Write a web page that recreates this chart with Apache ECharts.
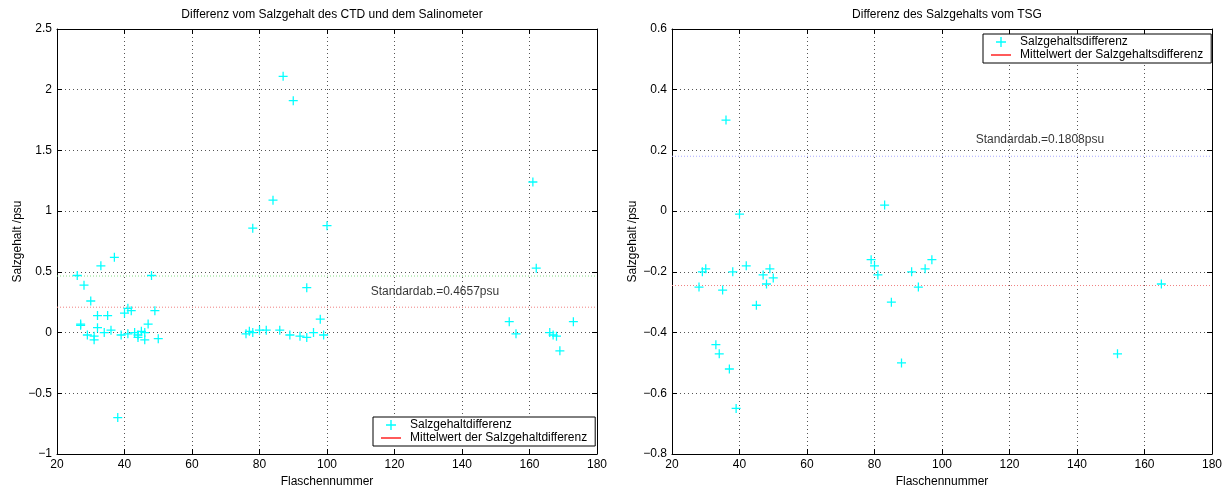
<!DOCTYPE html>
<html>
<head>
<meta charset="utf-8">
<script src="https://cdn.jsdelivr.net/npm/echarts@6/dist/echarts.min.js"></script>
<style>
html,body{margin:0;padding:0;background:#fff;}
#chart{width:1228px;height:487px;}
</style>
</head>
<body>
<div id="chart"></div>
<script>
// ---- Data ----
const leftTitle = 'Differenz vom Salzgehalt des CTD und dem Salinometer';
const rightTitle = 'Differenz des Salzgehalts vom TSG';
const xName = 'Flaschennummer';
const yName = 'Salzgehalt /psu';

const leftX = [26, 28, 27, 27, 30, 29, 31, 31, 32, 32, 33, 34, 35, 36, 37, 38, 39, 40, 41, 42, 41, 43, 44, 44, 45, 46, 46, 47, 48, 49, 50,
  76, 77, 78, 78, 80, 82, 84, 86, 87, 89, 90, 92, 94, 94, 96, 98, 99, 100,
  154, 156, 161, 162, 166, 167, 168, 169, 173];
const leftY = [0.47, 0.39, 0.07, 0.06, 0.26, -0.02, -0.03, -0.06, 0.04, 0.14, 0.55, 0.00, 0.14, 0.02, 0.62, -0.70, -0.02, 0.16, 0.20, 0.18, -0.01, 0.00, -0.04, -0.02, 0.01, 0.00, -0.06, 0.07, 0.47, 0.18, -0.05,
  -0.01, 0.01, 0.00, 0.86, 0.02, 0.02, 1.09, 0.02, 2.11, -0.02, 1.91, -0.03, -0.04, 0.37, 0.00, 0.11, -0.02, 0.88,
  0.09, -0.01, 1.24, 0.53, 0.00, -0.02, -0.03, -0.15, 0.09];
const leftMean = 0.209;
const leftStd = 0.4657;
const leftSeriesNames = ['Salzgehaltdifferenz', 'Mittelwert der Salzgehaltdifferenz'];
const leftStdText = 'Standardab.=0.4657psu';
const leftStdTextPos = [132, 0.34];

const rightX = [28, 29, 30, 33, 34, 35, 36, 37, 38, 39, 40, 42, 45, 47, 48, 49, 50, 79, 80, 81, 83, 85, 88, 91, 93, 95, 97, 152, 165];
const rightY = [-0.25, -0.20, -0.19, -0.44, -0.47, -0.26, 0.30, -0.52, -0.20, -0.65, -0.01, -0.18, -0.31, -0.21, -0.24, -0.19, -0.22, -0.16, -0.18, -0.21, 0.02, -0.30, -0.50, -0.20, -0.25, -0.19, -0.16, -0.47, -0.24];
const rightMean = -0.245;
const rightStd = 0.1808;
const rightSeriesNames = ['Salzgehaltsdifferenz', 'Mittelwert der Salzgehaltsdifferenz'];
const rightStdText = 'Standardab.=0.1808psu';
const rightStdTextPos = [129, 0.234];

const xRange = [20, 180, 20];
const leftYRange = [-1, 2.5, 0.5];
const rightYRange = [-0.8, 0.6, 0.2];

// ---- Styling / building ----
const FONT = '"Liberation Sans", Arial, Helvetica, sans-serif';
const plusPath = 'path://M0,4.3 H10 V5.7 H0 Z M4.3,0 H5.7 V10 H4.3 Z';
const cyan = '#00ffff';

function fmt(v) {
  let s = (Math.round(v * 1000) / 1000).toString();
  return s.replace('-', '\u2212');
}

const gridDefs = [
  {left: 57, top: 29, width: 540, height: 425},
  {left: 672, top: 29, width: 540, height: 425}
];

const xAxes = [], yAxes = [];
[leftYRange, rightYRange].forEach((yr, gi) => {
  xAxes.push({
    type: 'value', gridIndex: gi, position: 'bottom', min: xRange[0], max: xRange[1], interval: xRange[2],
    name: xName, nameLocation: 'middle', nameGap: 20,
    nameTextStyle: {fontFamily: FONT, fontSize: 12, color: '#000'},
    axisLine: {show: true, onZero: false, lineStyle: {color: '#000', width: 1}},
    axisTick: {show: true, inside: true, length: 5, lineStyle: {color: '#000'}},
    axisLabel: {fontFamily: FONT, fontSize: 12, color: '#000', margin: 5, formatter: fmt},
    splitLine: {show: true, lineStyle: {color: '#555', type: [1, 3], width: 1}}
  });
  xAxes.push({
    type: 'value', gridIndex: gi, position: 'top', min: xRange[0], max: xRange[1], interval: xRange[2],
    axisLine: {show: true, onZero: false, lineStyle: {color: '#000', width: 1}},
    axisTick: {show: true, inside: true, length: 5, lineStyle: {color: '#000'}},
    axisLabel: {show: false}, splitLine: {show: false}
  });
  yAxes.push({
    type: 'value', gridIndex: gi, position: 'left', min: yr[0], max: yr[1], interval: yr[2],
    name: yName, nameLocation: 'middle', nameGap: 33, nameRotate: 90,
    nameTextStyle: {fontFamily: FONT, fontSize: 12, color: '#000'},
    axisLine: {show: true, onZero: false, lineStyle: {color: '#000', width: 1}},
    axisTick: {show: true, inside: true, length: 5, lineStyle: {color: '#000'}},
    axisLabel: {fontFamily: FONT, fontSize: 12, color: '#000', margin: 5, formatter: fmt},
    splitLine: {show: true, lineStyle: {color: '#555', type: [1, 3], width: 1}}
  });
  yAxes.push({
    type: 'value', gridIndex: gi, position: 'right', min: yr[0], max: yr[1], interval: yr[2],
    axisLine: {show: true, onZero: false, lineStyle: {color: '#000', width: 1}},
    axisTick: {show: true, inside: true, length: 5, lineStyle: {color: '#000'}},
    axisLabel: {show: false}, splitLine: {show: false}
  });
});

function panelSeries(gi, xs, ys, names, mean, std, stdColor, stdText, stdPos) {
  const xi = gi * 2, yi = gi * 2;
  return [
    {
      type: 'line', name: names[1], xAxisIndex: xi, yAxisIndex: yi,
      data: [[xRange[0], mean], [xRange[1], mean]],
      symbol: 'none', color: '#ff0000', symbolKeepAspect: true,
      lineStyle: {color: '#f08080', width: 1, type: [1, 2]}, silent: true, z: 2
    },
    {
      type: 'line', name: 'std' + gi, xAxisIndex: xi, yAxisIndex: yi,
      data: [[xRange[0], std], [xRange[1], std]],
      symbol: 'none', lineStyle: {color: stdColor, width: 1, type: [1, 2]}, silent: true, z: 2
    },
    {
      type: 'scatter', name: names[0], xAxisIndex: xi, yAxisIndex: yi,
      data: xs.map((x, i) => [x, ys[i]]),
      symbol: plusPath, symbolSize: 9, symbolKeepAspect: true,
      itemStyle: {color: cyan, opacity: 1}, z: 5
    },
    {
      type: 'scatter', name: 'txt' + gi, xAxisIndex: xi, yAxisIndex: yi,
      data: [stdPos], symbolSize: 0, silent: true,
      label: {show: true, position: 'inside', formatter: stdText, fontFamily: FONT, fontSize: 12, color: '#000'}
    }
  ];
}

const series = [].concat(
  panelSeries(0, leftX, leftY, leftSeriesNames, leftMean, leftStd, '#88dd88', leftStdText, leftStdTextPos),
  panelSeries(1, rightX, rightY, rightSeriesNames, rightMean, rightStd, '#aaaaff', rightStdText, rightStdTextPos)
);

const legendCommon = {
  orient: 'vertical', backgroundColor: '#fff', borderColor: '#000', borderWidth: 1, borderRadius: 0,
  padding: [2, 8, 2, 8], itemGap: 1, itemWidth: 20, itemHeight: 10,
  textStyle: {fontFamily: FONT, fontSize: 12, color: '#000', padding: [0, 0, 0, 4]},
  selectedMode: false
};
const linePath = 'path://M0,0 H20 V1.3 H0 Z';

const option = {
  backgroundColor: '#fff',
  animation: false,
  title: [
    {text: leftTitle, left: 327, top: 4, textAlign: 'center',
      textStyle: {fontFamily: FONT, fontSize: 12, fontWeight: 'normal', color: '#000'}},
    {text: rightTitle, left: 942, top: 4, textAlign: 'center',
      textStyle: {fontFamily: FONT, fontSize: 12, fontWeight: 'normal', color: '#000'}}
  ],
  grid: gridDefs.map(g => Object.assign({show: false, containLabel: false, outerBoundsMode: 'none'}, g)),
  xAxis: xAxes,
  yAxis: yAxes,
  legend: [
    Object.assign({}, legendCommon, {left: 373, top: 417,
      data: [{name: leftSeriesNames[0], icon: plusPath}, {name: leftSeriesNames[1], icon: linePath}]}),
    Object.assign({}, legendCommon, {left: 983, top: 34,
      data: [{name: rightSeriesNames[0], icon: plusPath}, {name: rightSeriesNames[1], icon: linePath}]})
  ],
  series: series
};

const chart = echarts.init(document.getElementById('chart'), null, {renderer: 'canvas'});
chart.setOption(option);
</script>
</body>
</html>
